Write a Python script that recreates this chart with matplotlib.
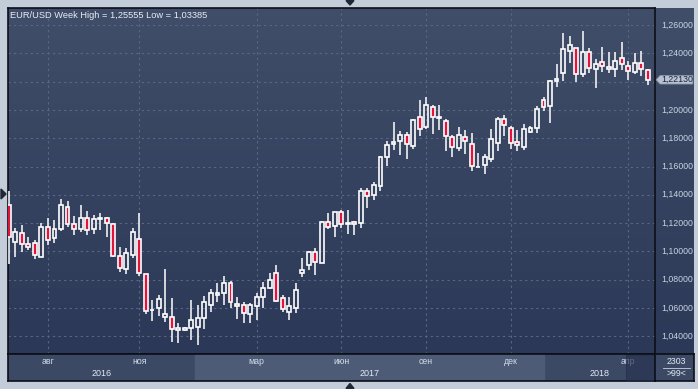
import matplotlib
matplotlib.use("Agg")
import matplotlib.pyplot as plt
import numpy as np
from matplotlib.patches import Polygon, Rectangle
from matplotlib.colors import LinearSegmentedColormap

plt.rcParams["font.family"] = ["Liberation Sans", "DejaVu Sans"]

# weekly EUR/USD candles
opens = [1.1328, 1.1069, 1.1128, 1.1050, 1.1057, 1.0963, 1.1170, 1.1093, 1.1156, 1.1312,
         1.1192, 1.1156, 1.1234, 1.1156, 1.1232, 1.1234, 1.1194, 1.0970, 1.0874, 1.0975,
         1.1086, 1.0838, 1.0588, 1.0598, 1.0534, 1.0539, 1.0444, 1.0444, 1.0456, 1.0464,
         1.0527, 1.0621, 1.0695, 1.0706, 1.0779, 1.0628, 1.0619, 1.0558, 1.0614, 1.0676,
         1.0739, 1.0845, 1.0668, 1.0574, 1.0602, 1.0848, 1.0902, 1.0994, 1.0920, 1.1206,
         1.1182, 1.1277, 1.1197, 1.1206, 1.1199, 1.1427, 1.1396, 1.1464, 1.1669, 1.1757,
         1.1782, 1.1822, 1.1747, 1.1948, 1.1877, 1.2018, 1.1946, 1.1920, 1.1806, 1.1733,
         1.1806, 1.1757, 1.1599, 1.1611, 1.1653, 1.1764, 1.1934, 1.1870, 1.1771, 1.1740,
         1.1846, 1.1870, 1.2070, 1.2030, 1.2202, 1.2259, 1.2416, 1.2435, 1.2252, 1.2412,
         1.2287, 1.2341, 1.2305, 1.2287, 1.2364, 1.2312, 1.2270, 1.2329, 1.2282]
highs = [1.1427, 1.1168, 1.1187, 1.1100, 1.1081, 1.1198, 1.1234, 1.1222, 1.1370, 1.1358,
         1.1250, 1.1328, 1.1288, 1.1257, 1.1269, 1.1245, 1.1203, 1.1033, 1.1022, 1.1168,
         1.1269, 1.0840, 1.0657, 1.0692, 1.0874, 1.0669, 1.0496, 1.0463, 1.0657, 1.0621,
         1.0685, 1.0732, 1.0779, 1.0826, 1.0793, 1.0680, 1.0640, 1.0633, 1.0708, 1.0786,
         1.0845, 1.0904, 1.0692, 1.0676, 1.0779, 1.0955, 1.1003, 1.1022, 1.1212, 1.1269,
         1.1281, 1.1296, 1.1293, 1.1215, 1.1446, 1.1446, 1.1490, 1.1674, 1.1780, 1.1917,
         1.1853, 1.1846, 1.1934, 1.2070, 1.2093, 1.2035, 1.2035, 1.1934, 1.1823, 1.1881,
         1.1858, 1.1839, 1.1698, 1.1688, 1.1863, 1.1952, 1.1964, 1.1886, 1.1858, 1.1900,
         1.1886, 1.2027, 1.2093, 1.2211, 1.2322, 1.2541, 1.2522, 1.2435, 1.2556, 1.2435,
         1.2360, 1.2442, 1.2411, 1.2411, 1.2478, 1.2346, 1.2400, 1.2416, 1.2289]
lows = [1.0912, 1.0963, 1.0998, 1.1010, 1.0946, 1.0958, 1.1045, 1.1062, 1.1146, 1.1175,
        1.1116, 1.1139, 1.1116, 1.1121, 1.1151, 1.1100, 1.0963, 1.0857, 1.0840, 1.0951,
        1.0828, 1.0557, 1.0510, 1.0544, 1.0503, 1.0362, 1.0351, 1.0440, 1.0374, 1.0339,
        1.0450, 1.0574, 1.0644, 1.0621, 1.0602, 1.0520, 1.0492, 1.0492, 1.0515, 1.0598,
        1.0732, 1.0645, 1.0574, 1.0515, 1.0567, 1.0817, 1.0869, 1.0833, 1.0918, 1.1156,
        1.1104, 1.1163, 1.1123, 1.1116, 1.1168, 1.1309, 1.1363, 1.1429, 1.1604, 1.1717,
        1.1681, 1.1653, 1.1724, 1.1816, 1.1863, 1.1830, 1.1858, 1.1712, 1.1665, 1.1712,
        1.1688, 1.1570, 1.1595, 1.1547, 1.1634, 1.1712, 1.1816, 1.1724, 1.1712, 1.1717,
        1.1835, 1.1839, 1.1994, 1.1910, 1.2164, 1.2204, 1.2334, 1.2199, 1.2235, 1.2259,
        1.2153, 1.2266, 1.2259, 1.2235, 1.2282, 1.2211, 1.2254, 1.2242, 1.2176]
closes = [1.1104, 1.1135, 1.1052, 1.1029, 1.0975, 1.1170, 1.1081, 1.1156, 1.1328, 1.1192,
          1.1156, 1.1234, 1.1151, 1.1227, 1.1234, 1.1199, 1.0968, 1.0881, 1.0986, 1.1139,
          1.0850, 1.0579, 1.0586, 1.0662, 1.0558, 1.0450, 1.0456, 1.0456, 1.0515, 1.0527,
          1.0645, 1.0704, 1.0706, 1.0777, 1.0640, 1.0614, 1.0563, 1.0621, 1.0676, 1.0739,
          1.0798, 1.0652, 1.0591, 1.0614, 1.0727, 1.0867, 1.0994, 1.0927, 1.1206, 1.1175,
          1.1281, 1.1192, 1.1201, 1.1192, 1.1427, 1.1394, 1.1467, 1.1665, 1.1750, 1.1773,
          1.1822, 1.1756, 1.1929, 1.1863, 1.2035, 1.1948, 1.1948, 1.1816, 1.1736, 1.1822,
          1.1780, 1.1606, 1.1600, 1.1665, 1.1792, 1.1934, 1.1893, 1.1768, 1.1750, 1.1863,
          1.1870, 1.2004, 1.2023, 1.2204, 1.2216, 1.2428, 1.2459, 1.2252, 1.2407, 1.2294,
          1.2322, 1.2310, 1.2287, 1.2348, 1.2324, 1.2277, 1.2329, 1.2287, 1.2213]

price_levels = [1.04, 1.06, 1.08, 1.10, 1.12, 1.14, 1.16, 1.18, 1.20, 1.22, 1.24, 1.26]
month_pos = [6, 20, 38, 51, 64, 77, 95]
month_labels = ["авг", "ноя", "мар", "июн", "сен", "дек", "апр"]
year_bounds = [28.6, 82.1]
year_labels = ["2016", "2017", "2018"]
last_price = 1.2213
title = "EUR/USD Week High = 1,25555 Low = 1,03385"

W, H = 698, 389
def fx(px):
    return px / W
def fy(py):
    return 1 - py / H

xlo, xhi = -0.08, 99.1
ylo, yhi = 1.0275, 1.2718

fig = plt.figure(figsize=(6.98, 3.89), dpi=100, facecolor="#c3cdd9")

# gradient background behind chart and price scale
bg = fig.add_axes([fx(8.3), fy(354), fx(694) - fx(8.3), fy(8.3) - fy(354)])
cmap = LinearSegmentedColormap.from_list("bg", ["#404e69", "#2b3857"])
bg.imshow(np.linspace(0, 1, 256).reshape(-1, 1), aspect="auto", cmap=cmap,
          extent=[0, 1, 0, 1])
bg.axis("off")

# main chart
ax = fig.add_axes([fx(8.3), fy(354), fx(655) - fx(8.3), fy(8.3) - fy(354)])
ax.set_facecolor("none")
ax.set_xlim(xlo, xhi)
ax.set_ylim(ylo, yhi)
ax.set_yticks(price_levels)
ax.set_xticks(month_pos)
ax.grid(color="#5b6884", linestyle=(0, (2, 3)), linewidth=0.8)
ax.tick_params(length=0, labelleft=False, labelbottom=False)
for s in ax.spines.values():
    s.set_color("#0c0f18")
    s.set_linewidth(1.2)

o = np.array(opens)
h = np.array(highs)
l = np.array(lows)
c = np.array(closes)
x = np.arange(len(o))
top = np.maximum(o, c)
bot = np.minimum(o, c)
up = c >= o

ax.vlines(x, top, h, color="white", linewidth=1.1, zorder=3)
ax.vlines(x, l, bot, color="white", linewidth=1.1, zorder=3)
ax.bar(x[up], (top - bot)[up], bottom=bot[up], width=0.6, facecolor="none",
       edgecolor="white", linewidth=1.2, zorder=4)
ax.bar(x[~up], (top - bot)[~up], bottom=bot[~up], width=0.6, facecolor="#e3143c",
       edgecolor="white", linewidth=1.2, zorder=4)

fig.text(fx(10), fy(15), title, fontsize=6.7, color="#e8edf4", va="center")

# price scale
axr = fig.add_axes([fx(655), fy(354), fx(694) - fx(655), fy(8.3) - fy(354)])
axr.set_facecolor("none")
axr.set_xlim(0, 1)
axr.set_ylim(ylo, yhi)
axr.axis("off")
for p in price_levels:
    if abs(p - last_price) < 0.005:
        continue
    axr.text(0.57, p, f"{p:.5f}".replace(".", ","), fontsize=6.3, color="#c9d3e2",
             ha="center", va="center")
th = 0.0030
tag = Polygon([(0.03, last_price), (0.13, last_price + th), (0.97, last_price + th),
               (0.97, last_price - th), (0.13, last_price - th)], closed=True,
              facecolor="#b8c2d0", edgecolor="#8a95a6", linewidth=0.6)
axr.add_patch(tag)
axr.text(0.57, last_price, f"{last_price:.5f}".replace(".", ","), fontsize=6.3,
         color="#18233a", ha="center", va="center")

# time scale
axb = fig.add_axes([fx(8.3), fy(381), fx(655) - fx(8.3), fy(354) - fy(381)])
axb.set_facecolor("#3c4964")
axb.set_xlim(xlo, xhi)
axb.set_ylim(0, 1)
axb.set_xticks([])
axb.set_yticks([])
for s in axb.spines.values():
    s.set_color("#0c0f18")
    s.set_linewidth(1.2)
axb.axvspan(year_bounds[0], year_bounds[1], color="#4d5b77", zorder=0)
for mp, ml in zip(month_pos, month_labels):
    axb.text(mp, 0.74, ml, fontsize=6.3, color="#d3dbe8", ha="center", va="center")
edges = [xlo] + year_bounds + [xhi]
for k, yl in enumerate(year_labels):
    axb.text((edges[k] + edges[k + 1]) / 2, 0.28, yl, fontsize=6.5, color="#e3e9f2",
             ha="center", va="center")
axb.add_patch(Rectangle((94.6, 0.02), xhi - 94.6, 0.96, facecolor="#263150",
                        alpha=0.65, edgecolor="#1f2940", linewidth=0.6, zorder=5))

# corner box
axc = fig.add_axes([fx(655), fy(381), fx(694) - fx(655), fy(354) - fy(381)])
axc.set_facecolor("#3c4964")
axc.set_xlim(0, 1)
axc.set_ylim(0, 1)
axc.set_xticks([])
axc.set_yticks([])
for s in axc.spines.values():
    s.set_color("#0c0f18")
    s.set_linewidth(1.2)
axc.text(0.55, 0.74, "2303", fontsize=6.3, color="#e3e9f2", ha="center", va="center")
axc.plot([0.2, 0.9], [0.5, 0.5], color="#c9d3e2", linewidth=0.6)
axc.text(0.55, 0.27, ">99<", fontsize=6.3, color="#e3e9f2", ha="center", va="center")

# little scroll arrows on the frame
tri = "#1e2638"
fig.add_artist(Polygon([(fx(346), fy(0.5)), (fx(354), fy(0.5)), (fx(350), fy(5))],
                       closed=True, color=tri, transform=fig.transFigure))
fig.add_artist(Polygon([(fx(346), fy(388.5)), (fx(354), fy(388.5)), (fx(350), fy(383.5))],
                       closed=True, color=tri, transform=fig.transFigure))
fig.add_artist(Polygon([(fx(1), fy(189)), (fx(1), fy(199)), (fx(6), fy(194))],
                       closed=True, color=tri, transform=fig.transFigure))

fig.savefig("out.png", dpi=100, facecolor=fig.get_facecolor())
